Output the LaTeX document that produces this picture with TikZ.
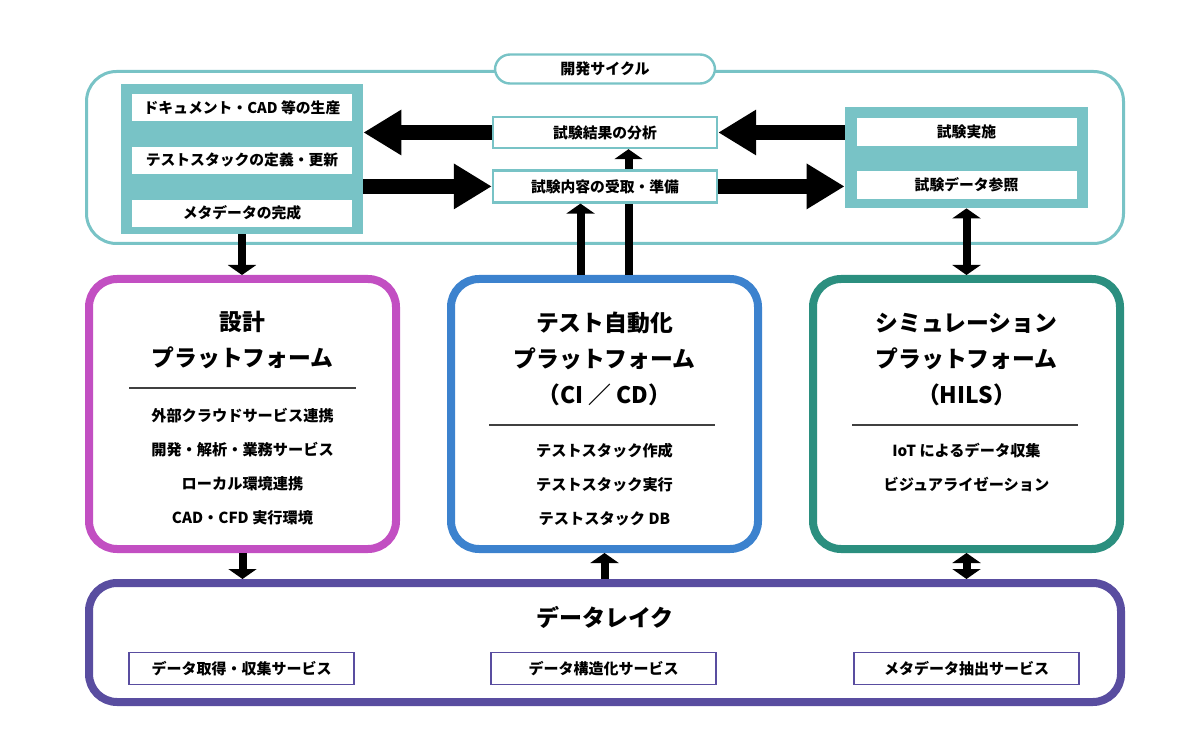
\documentclass[tikz,border=0pt]{standalone}
\usepackage{fontspec}
\setmainfont{Noto Sans CJK JP}
\usepackage{xcolor}
\usepackage{tikz}
\usetikzlibrary{shapes,arrows.meta,positioning}

\definecolor{cycleteal}{HTML}{78C3C6}
\definecolor{designpink}{HTML}{C24FC2}
\definecolor{testblue}{HTML}{3C82CE}
\definecolor{simgreen}{HTML}{2B8F7F}
\definecolor{lakepurple}{HTML}{594DA0}

\begin{document}
\begin{tikzpicture}[x=0.5pt, y=-0.5pt, >=latex]
    \tikzstyle{cycleframe} = [rectangle, rounded corners=15pt, draw=cycleteal, line width=1.5pt, minimum width=518.5pt, minimum height=86pt]
    \tikzstyle{pill} = [rectangle, rounded corners=7.5pt, draw=cycleteal, line width=1.2pt, fill=white, minimum width=110pt, minimum height=14.5pt, font=\bfseries\fontsize{7.5}{8}\selectfont]
    \tikzstyle{stackblk} = [rectangle, fill=cycleteal, inner sep=0pt]
    \tikzstyle{stackitem} = [rectangle, fill=white, minimum width=110pt, minimum height=13.5pt, inner sep=0pt, font=\bfseries\fontsize{7.4}{8}\selectfont]
    \tikzstyle{flowbox} = [rectangle, fill=white, draw=cycleteal, line width=1.2pt, minimum width=112pt, minimum height=15pt, inner sep=0pt, font=\bfseries\fontsize{7.4}{8}\selectfont]
    \tikzstyle{platform} = [rectangle, rounded corners=14pt, line width=4pt, fill=white, minimum width=153.5pt, minimum height=135pt]
    \tikzstyle{ptitle} = [align=center, font=\bfseries\fontsize{11.4}{18}\selectfont]
    \tikzstyle{plist} = [align=center, font=\bfseries\fontsize{7.6}{17}\selectfont]
    \tikzstyle{divider} = [line width=0.6pt, draw=black!75]
    \tikzstyle{lake} = [rectangle, rounded corners=14pt, draw=lakepurple, line width=4pt, minimum width=516pt, minimum height=59.5pt]
    \tikzstyle{service} = [rectangle, draw=lakepurple, line width=0.8pt, minimum width=112.5pt, minimum height=16pt, inner sep=0pt, font=\bfseries\fontsize{7.5}{8}\selectfont]
    \tikzstyle{bigarrow} = [line width=7.5pt, -{Triangle[length=19pt, width=21.5pt]}]
    \tikzstyle{arrow} = [line width=4pt, -{Triangle[length=5pt, width=14pt]}]
    \tikzstyle{dblarrow} = [line width=4pt, {Triangle[length=5pt, width=14pt]}-{Triangle[length=5pt, width=14pt]}]

    \useasboundingbox (0,0) rectangle (1200,754);

    % development cycle
    \node[cycleframe] (cycle) at (605,157.5) {};
    \node[pill] (cyclelbl) at (605,69) {開発サイクル};

    \node[stackblk, minimum width=121pt, minimum height=75pt] (docblk) at (242,159) {};
    \node[stackitem, below=5pt of docblk.north] (produce) {ドキュメント・CAD 等の生産};
    \node[stackitem, below=12.5pt of produce] (define) {テストスタックの定義・更新};
    \node[stackitem, below=12.5pt of define] (meta) {メタデータの完成};

    \node[stackblk, minimum width=121.5pt, minimum height=50.5pt] (runblk) at (966.5,157.5) {};
    \node[stackitem, minimum height=14pt, below=5.5pt of runblk.north] (run) {試験実施};
    \node[stackitem, minimum height=14pt, below=12pt of run] (refer) {試験データ参照};

    \node[flowbox, minimum height=15.5pt] (result) at (605,132.5) {試験結果の分析};

    % platforms
    \node[platform, draw=designpink] (design) at (242.5,414) {};
    \node[platform, draw=testblue] (test) at (604.5,414) {};
    \node[platform, draw=simgreen] (sim) at (966.5,414) {};

    \draw[arrow] ([xshift=12pt]test.north) -- ([xshift=12pt]test.north |- result.south);
    \node[flowbox, minimum height=16pt, below=10pt of result] (prep) {試験内容の受取・準備};

    \node[ptitle] (dtitle) at (242.5,340) {設計\\プラットフォーム};
    \draw[divider] (129,388) -- (356,388);
    \node[plist] (dlist) at (242.5,467) {外部クラウドサービス連携\\開発・解析・業務サービス\\ローカル環境連携\\CAD・CFD 実行環境};

    \node[ptitle] (ttitle) at (604.5,359) {テスト自動化\\プラットフォーム\\（CI ／ CD）};
    \draw[divider] (489,425) -- (715,425);
    \node[plist] (tlist) at (604.5,484.5) {テストスタック作成\\テストスタック実行\\テストスタック DB};

    \node[ptitle] (stitle) at (966.5,359) {シミュレーション\\プラットフォーム\\（HILS）};
    \draw[divider] (852,425) -- (1078,425);
    \node[plist] (slist) at (966.5,467.5) {IoT によるデータ収集\\ビジュアライゼーション};

    % data lake
    \node[lake] (lake) at (605,642.5) {};
    \node[font=\bfseries\fontsize{11.5}{12}\selectfont] (laketitle) at (605,617) {データレイク};
    \node[service] (collect) at (241.5,668.5) {データ取得・収集サービス};
    \node[service] (structure) at (603.5,668.5) {データ構造化サービス};
    \node[service] (extract) at (966.5,668.5) {メタデータ抽出サービス};

    \draw[bigarrow] (result.west) -- (result.west -| docblk.east);
    \draw[bigarrow] (docblk.east |- prep.west) -- (prep.west);
    \draw[bigarrow] (result.east -| runblk.west) -- (result.east);
    \draw[bigarrow] (prep.east) -- (prep.east -| runblk.west);

    \draw[arrow] (docblk.south) -- (docblk.south |- design.north);
    \draw[dblarrow] (runblk.south) -- (runblk.south |- sim.north);
    \draw[arrow] ([xshift=-12pt]test.north) -- ([xshift=-12pt]test.north |- prep.south);

    \draw[arrow] (design.south) -- (design.south |- lake.north);
    \draw[arrow] (lake.north -| test.south) -- (test.south);
    \draw[dblarrow] (sim.south) -- (sim.south |- lake.north);
\end{tikzpicture}
\end{document}
